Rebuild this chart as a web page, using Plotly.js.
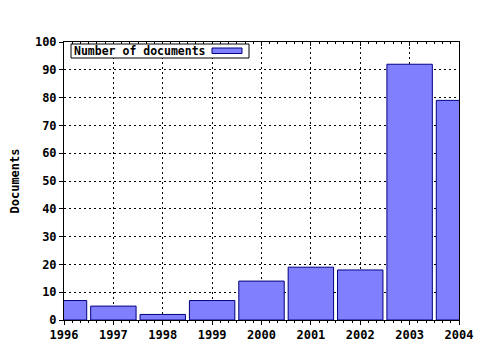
<!DOCTYPE html>
<html><head><meta charset="utf-8">
<script src="https://cdn.plot.ly/plotly-3.0.1.min.js"></script>
<style>body{margin:0;background:#fff}#c{width:480px;height:350px}</style>
</head><body><div id="c"></div>
<script>
const years = [1996, 1997, 1998, 1999, 2000, 2001, 2002, 2003, 2004];
const documents = [7, 5, 2, 7, 14, 19, 18, 92, 79];
const seriesName = 'Number of documents';
const yTitle = 'Documents';

const tickFont = {family: 'DejaVu Sans Mono', size: 12, weight: 'bold', color: '#000'};
const trace = {
  type: 'bar', x: years, y: documents, name: seriesName, width: 0.92,
  marker: {color: '#8080ff', line: {color: '#000080', width: 1}},
  showlegend: false, hoverinfo: 'none'
};
const layout = {
  width: 480, height: 350,
  margin: {l: 64, r: 21, t: 42, b: 30},
  paper_bgcolor: '#fff', plot_bgcolor: '#fff',
  font: {family: 'DejaVu Sans Mono', size: 11, color: '#000'},
  xaxis: {
    range: [1996, 2004], tickmode: 'linear', tick0: 1996, dtick: 1,
    showgrid: true, gridcolor: '#000', griddash: '2px,3px', gridwidth: 1,
    showline: true, linecolor: '#000', linewidth: 1, mirror: true,
    ticks: 'outside', ticklen: 4, tickcolor: '#000',
    minor: {dtick: 1/6, ticks: 'outside', ticklen: 2, tickcolor: '#000', showgrid: false},
    tickfont: tickFont,
    zeroline: false, fixedrange: true
  },
  xaxis2: {
    overlaying: 'x', side: 'top', matches: 'x', range: [1996, 2004],
    tickmode: 'linear', tick0: 1996, dtick: 1, showticklabels: false,
    showgrid: false, zeroline: false, showline: false,
    ticks: 'inside', ticklen: 4, tickcolor: '#000',
    minor: {dtick: 1/6, ticks: 'inside', ticklen: 2, tickcolor: '#000', showgrid: false},
    fixedrange: true
  },
  yaxis: {
    range: [0, 100], tickmode: 'linear', tick0: 0, dtick: 10,
    showgrid: true, gridcolor: '#000', griddash: '2px,3px', gridwidth: 1,
    showline: true, linecolor: '#000', linewidth: 1, mirror: true,
    ticks: 'outside', ticklen: 4, tickcolor: '#000',
    tickfont: tickFont,
    title: {text: yTitle, font: {family: 'DejaVu Sans Mono', size: 12, weight: 'bold', color: '#000'}, standoff: 12},
    zeroline: false, fixedrange: true
  },
  shapes: [
    {type: 'rect', xref: 'paper', yref: 'paper', x0: 7/395, x1: 185/395, y0: 1 - 16/278, y1: 1 - 2/278,
     line: {color: '#000', width: 1}, fillcolor: '#fff', layer: 'above'},
    {type: 'rect', xref: 'paper', yref: 'paper', x0: 148/395, x1: 178/395, y0: 1 - 11.5/278, y1: 1 - 6/278,
     line: {color: '#000080', width: 1}, fillcolor: '#8080ff', layer: 'above'}
  ],
  annotations: [
    {text: seriesName, xref: 'paper', yref: 'paper', x: 8/395, y: 1 - 9/278, xanchor: 'left', yanchor: 'middle',
     showarrow: false, font: {family: 'DejaVu Sans Mono', size: 11.5, weight: 'bold', color: '#000'}}
  ],
  bargap: 0.08
};
const topAxisTrace = {type: 'scatter', x: [years[0]], y: [documents[0]], xaxis: 'x2', mode: 'none', showlegend: false, hoverinfo: 'none'};
Plotly.newPlot('c', [trace, topAxisTrace], layout, {staticPlot: true});
</script></body></html>
